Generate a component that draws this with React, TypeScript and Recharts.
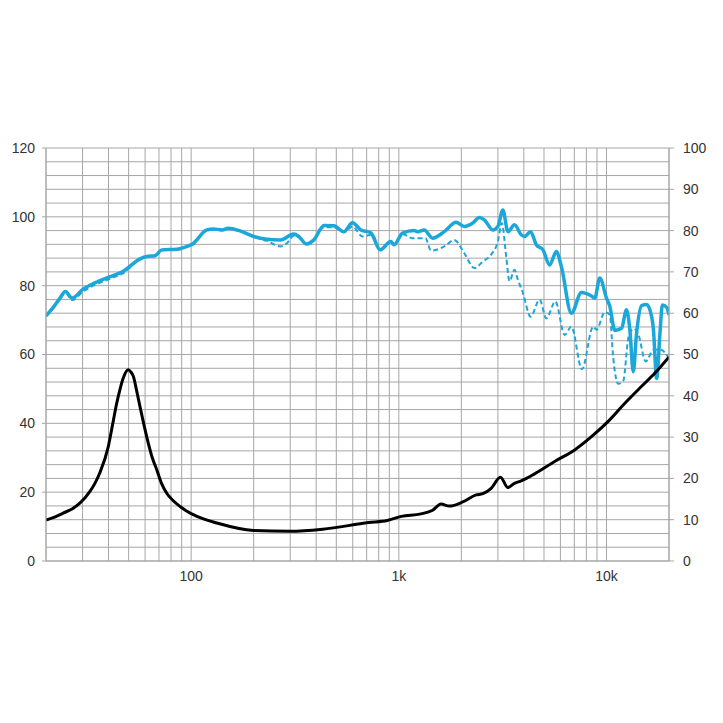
import { LineChart, Line, XAxis, YAxis, CartesianGrid } from 'recharts';

// log grid, labels only on the decades
const gridFreqs = [
  20, 30, 40, 50, 60, 70, 80, 90,
  100, 200, 300, 400, 500, 600, 700, 800, 900,
  1000, 2000, 3000, 4000, 5000, 6000, 7000, 8000, 9000,
  10000, 20000,
];
const freqLabels: Record<number, string> = { 100: '100', 1000: '1k', 10000: '10k' };

const splTicks = [
  0, 4, 8, 12, 16, 20, 24, 28, 32, 36, 40, 44, 48, 52, 56, 60,
  64, 68, 72, 76, 80, 84, 88, 92, 96, 100, 104, 108, 112, 116, 120,
];
const splLabels = [0, 20, 40, 60, 80, 100, 120];
const ohmTicks = [0, 10, 20, 30, 40, 50, 60, 70, 80, 90, 100];

// on-axis response (solid)
const onFreq = [
  20, 22, 23.3, 24.8, 26.7, 30.2, 34.4, 40.6, 46.9, 56.7, 61.1, 67, 72.2, 85.3, 95.4,
  101, 119, 128, 141, 151, 172, 200, 232, 269, 312, 330, 359, 390, 436, 487, 544, 598,
  656, 733, 812, 915, 949, 1042, 1186, 1232, 1325, 1455, 1656, 1886, 2068, 2270, 2443,
  2582, 2836, 2998, 3170, 3352, 3606, 3885, 4030, 4309, 4592, 4947, 5324, 5735, 6062,
  6776, 7573, 8465, 8782, 9284, 10000, 10375, 10968, 11813, 12488, 12957, 13459, 13964,
  14762, 15608, 16500, 16814, 17444, 18094, 18584, 19496, 20000,
];
const onSpl = [
  71.2, 74.2, 76.3, 78.3, 76.4, 79, 80.8, 82.6, 84.1, 87.8, 88.5, 88.7, 90.4, 90.6, 91.4,
  92, 96.2, 96.5, 96.2, 96.7, 95.9, 94.3, 93.5, 93.3, 95, 94.3, 92.1, 93.3, 97.5, 97.4, 95.7, 98.3,
  96.2, 95.4, 90.4, 92.8, 91.9, 95.3, 96, 95.7, 96.2, 93.8, 95.7, 98.4, 97.2, 98.2, 99.8,
  99.1, 96.2, 97.2, 102, 95.7, 97.7, 94.8, 94.3, 95.7, 91.9, 90.4, 86, 89.9, 85.6,
  72, 78, 77, 76.4, 82.2, 76.4, 74, 67, 67.6, 73, 67.2, 55, 66.2,
  74.2, 74.5, 71, 67.5, 53, 66.2, 74.4, 73.7, 71.5,
];

// off-axis response (dashed)
const offFreq = [
  20, 22, 23.3, 24.8, 26.7, 30.2, 34.4, 40.6, 46.9, 56.7, 61.1, 67, 72.2, 85.3, 95.4,
  101, 119, 128, 141, 151, 172, 200, 232, 269, 290, 312, 330, 359, 390, 436, 487, 544,
  598, 668, 747, 812, 915, 949, 1042, 1160, 1344, 1428, 1656, 1850, 1886, 2068, 2312,
  2538, 2784, 2998, 3134, 3288, 3412, 3606, 3746, 3961, 4309, 4764, 5133, 5672, 6290,
  6776, 7616, 8628, 8950, 9814, 10375, 10775, 11392, 12042, 12774, 13504, 14232, 15436,
  16814, 18094, 19866,
];
const offSpl = [
  71.2, 74, 76, 78, 75.8, 78.3, 80.2, 82, 83.6, 87.6, 88.4, 88.6, 90.3, 90.5, 91.3,
  91.9, 96.1, 96.4, 96.1, 96.6, 95.8, 94.2, 93, 91.4, 92.4, 94.5, 94, 92, 93.2, 97, 97, 95.5,
  97.2, 94.3, 94.8, 90.4, 93, 92, 95, 93.8, 93.8, 90.2, 91.4, 93.3, 93, 89.4, 85.1,
  87, 89, 92.8, 98.2, 88.5, 81.3, 84.6, 81.7, 77.8, 71, 75.9, 70.5, 75.4, 65.7,
  68.1, 55.7, 68.1, 67.2, 72.3, 71.5, 59, 51.5, 52.3, 65.2, 67.5, 65.9, 58,
  61.3, 61.5, 59.2,
];

// impedance, right axis
const impFreq = [
  20, 22, 24.2, 26.7, 29.1, 32.5, 34.4, 36.3, 39.9, 41.8, 43.8, 45.5, 47.1, 49.8, 51.2,
  52.7, 54.6, 56.7, 59.3, 62.2, 65, 68.3, 72, 76.3, 82, 88.5, 95,
  106.6, 133, 200, 300, 430, 716, 880, 1028, 1278, 1455, 1596, 1750, 2032, 2355, 2538,
  2784, 3086, 3352, 3606, 3885, 4506, 5628, 7030, 8465, 10190, 12260, 14762, 17118, 20000,
];
const impOhm = [
  9.9, 10.6, 11.6, 12.6, 14, 16.8, 18.8, 21.3, 27.7, 32.9, 38.2, 41.7, 44.3, 46.3, 45.8,
  44.7, 41.3, 37.4, 32.9, 28.5, 25, 22.1, 18.8, 16.4, 14.6, 13.2, 12.1,
  10.8, 9.2, 7.4, 7.2, 7.7, 9.3, 9.8, 10.8, 11.4, 12.3, 13.8, 13.3, 14.3, 16, 16.3,
  17.6, 20.3, 17.8, 18.8, 19.4, 21.1, 24.1, 26.9, 30.1, 33.8, 38.2, 42.3, 45.5, 49.4,
];

const zip = (f: number[], v: number[]) => f.map((x, i) => ({ f: x, v: v[i] }));

const onData = zip(onFreq, onSpl);
const offData = zip(offFreq, offSpl);
const impData = zip(impFreq, impOhm);

const FONT = '"Liberation Sans", Arial, sans-serif';
const GRID = '#a6a6a6';
const TEXT = '#333333';
const BLUE = '#1ba7da';

function LeftTick(props: any) {
  const { x, y, payload } = props;
  if (!splLabels.includes(payload.value)) return <g />;
  return (
    <g>
      <line x1={x + 7} x2={x + 11} y1={y} y2={y} stroke={GRID} />
      <text x={x} y={y} dy="0.355em" textAnchor="end" fontSize={14} fill={TEXT} fontFamily={FONT}>
        {payload.value}
      </text>
    </g>
  );
}

export default function App() {
  return (
    <div style={{ position: 'absolute', left: 0, top: 0, background: '#fff' }}>
      <LineChart width={723} height={723} margin={{ top: 148, right: 0, bottom: 132, left: 0 }}>
        <CartesianGrid stroke={GRID} yAxisId="left" />
        <XAxis
          dataKey="f"
          type="number"
          scale="log"
          domain={[20, 20000]}
          ticks={gridFreqs}
          interval={0}
          allowDataOverflow
          height={30}
          tickLine={false}
          tickSize={4}
          tickMargin={6}
          stroke={GRID}
          tick={{ fill: TEXT, fontSize: 14, fontFamily: FONT }}
          tickFormatter={(v: number) => freqLabels[v] ?? ''}
        />
        <YAxis
          yAxisId="left"
          domain={[0, 120]}
          ticks={splTicks}
          interval={0}
          width={46}
          tickLine={false}
          tickSize={4}
          tickMargin={7}
          stroke={GRID}
          tick={<LeftTick />}
        />
        <YAxis
          yAxisId="right"
          orientation="right"
          domain={[0, 100]}
          ticks={ohmTicks}
          interval={0}
          width={54}
          tickSize={5}
          tickMargin={9}
          stroke={GRID}
          tick={{ fill: TEXT, fontSize: 14, fontFamily: FONT, textAnchor: 'start' }}
        />
        <Line
          yAxisId="left"
          data={offData}
          dataKey="v"
          type="monotone"
          stroke={BLUE}
          strokeWidth={2}
          strokeDasharray="5 3"
          dot={false}
          isAnimationActive={false}
        />
        <Line
          yAxisId="left"
          data={onData}
          dataKey="v"
          type="monotone"
          stroke={BLUE}
          strokeWidth={3.5}
          dot={false}
          isAnimationActive={false}
        />
        <Line
          yAxisId="right"
          data={impData}
          dataKey="v"
          type="monotone"
          stroke="#000"
          strokeWidth={3}
          dot={false}
          isAnimationActive={false}
        />
      </LineChart>
    </div>
  );
}
